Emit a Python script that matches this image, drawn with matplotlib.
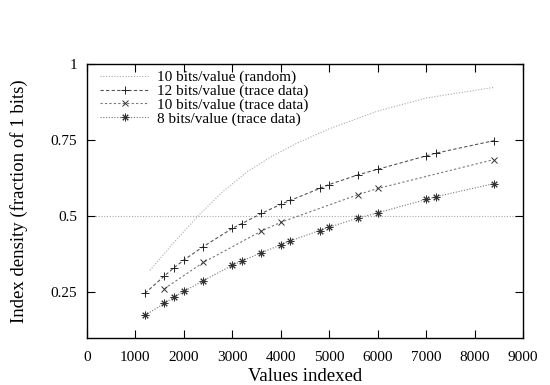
import numpy as np
import matplotlib
matplotlib.use('Agg')
import matplotlib.pyplot as plt

# random 10 bits/value curve
rand_x = [1300, 1800, 2300, 2800, 3300, 3800, 4300, 5000, 6000, 7000, 8400]
rand_y = [0.322, 0.415, 0.502, 0.58, 0.645, 0.695, 0.737, 0.787, 0.845,
          0.888, 0.923]

# trace data
x12 = [1200, 1600, 1800, 2000, 2400, 3000, 3200, 3600, 4000, 4200, 4800,
       5000, 5600, 6000, 7000, 7200, 8400]
y12 = [0.247, 0.304, 0.331, 0.356, 0.400, 0.460, 0.476, 0.509, 0.539, 0.552,
       0.591, 0.604, 0.636, 0.654, 0.698, 0.707, 0.748]

x10 = [1600, 2400, 3600, 4000, 5600, 6000, 8400]
y10 = [0.262, 0.348, 0.451, 0.480, 0.571, 0.591, 0.686]

x8 = [1200, 1600, 1800, 2000, 2400, 3000, 3200, 3600, 4000, 4200, 4800,
      5000, 5600, 6000, 7000, 7200, 8400]
y8 = [0.175, 0.214, 0.235, 0.253, 0.288, 0.339, 0.353, 0.380, 0.406, 0.419,
      0.453, 0.464, 0.494, 0.511, 0.555, 0.564, 0.607]

plt.rcParams['font.family'] = ['Liberation Serif', 'DejaVu Serif']

fig = plt.figure(figsize=(5.5, 3.85), dpi=100)
ax = fig.add_axes([0.158, 0.122, 0.793, 0.712])

ax.axhline(0.5, color='#aaaaaa', lw=0.8, ls=(0, (1, 1.5)), zorder=1)

ax.plot(rand_x, rand_y, color='#aaaaaa', lw=0.8, ls=(0, (1, 1.5)),
        label='10 bits/value (random)')
ax.plot(x12, y12, color='#555555', lw=0.8, ls=(0, (3, 2)),
        marker='+', ms=6, mec='#222222', mew=0.7,
        label='12 bits/value (trace data)')
ax.plot(x10, y10, color='#777777', lw=0.8, ls=(0, (2, 2)),
        marker='x', ms=4.5, mec='#333333', mew=0.7,
        label='10 bits/value (trace data)')
ax.plot(x8, y8, color='#777777', lw=0.8, ls=(0, (1, 1.5)),
        marker=(8, 2, 0), ms=5.5, mec='#333333', mew=0.7,
        label='8 bits/value (trace data)')

ax.set_xlim(0, 9000)
ax.set_ylim(0.1, 1)
ax.set_xticks(np.arange(0, 9001, 1000))
ax.set_yticks([0.25, 0.5, 0.75, 1])
ax.set_yticklabels(['0.25', '0.5', '0.75', '1'])
ax.tick_params(direction='in', length=6, width=0.8, top=True, right=True,
               labelsize=11)
ax.tick_params(axis='x', pad=9)
ax.tick_params(axis='y', pad=7)
for s in ax.spines.values():
    s.set_linewidth(1.0)

ax.set_xlabel('Values indexed', fontsize=13.5, labelpad=3)
ax.set_ylabel('Index density (fraction of 1 bits)', fontsize=13.5,
              labelpad=16)

ax.legend(loc='upper left', frameon=False, fontsize=11, handlelength=3.2,
          handletextpad=0.5, labelspacing=0.0, borderaxespad=0.2,
          bbox_to_anchor=(0.01, 1.01))

fig.savefig('out.png', dpi=100)
